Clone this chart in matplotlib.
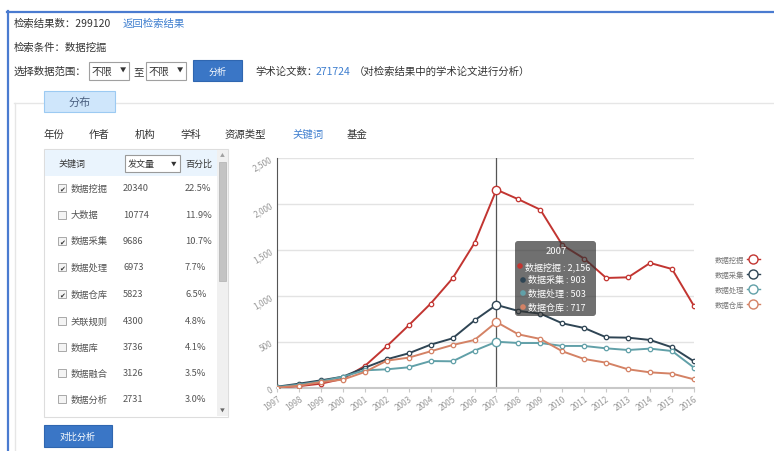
import matplotlib
matplotlib.use("Agg")
import matplotlib.pyplot as plt
from matplotlib.patches import Rectangle, FancyBboxPatch, Circle
from matplotlib.lines import Line2D
from matplotlib.ticker import FuncFormatter

plt.rcParams["font.family"] = ["Noto Sans CJK SC", "DejaVu Sans"]

# ---- data ----
years = list(range(1997, 2017))
series_names = ["数据挖掘", "数据采集", "数据处理", "数据仓库"]
series_colors = ["#c23531", "#2f4554", "#61a0a8", "#d48265"]
wajue = [5, 20, 47, 100, 239, 453, 681, 917, 1192, 1576, 2156,
         2051, 1938, 1554, 1406, 1196, 1203, 1359, 1293, 891]
caiji = [14, 47, 83, 123, 221, 312, 377, 471, 540, 735, 903,
         837, 808, 703, 652, 551, 547, 522, 442, 290]
chuli = [11, 36, 72, 123, 192, 203, 225, 293, 290, 406, 503,
         489, 489, 457, 457, 431, 413, 428, 402, 221]
cangku = [4, 25, 65, 91, 174, 297, 330, 399, 467, 522, 717,
          583, 533, 399, 315, 275, 203, 170, 156, 94]
series_values = [wajue, caiji, chuli, cangku]
focus_year = 2007

keywords = ["数据挖掘", "大数据", "数据采集", "数据处理", "数据仓库",
            "关联规则", "数据库", "数据融合", "数据分析"]
counts = ["20340", "10774", "9686", "6973", "5823", "4300", "3736", "3126", "2731"]
percents = ["22.5%", "11.9%", "10.7%", "7.7%", "6.5%", "4.8%", "4.1%", "3.5%", "3.0%"]
checked = [True, False, True, True, True, False, False, False, False]
tabs = ["年份", "作者", "机构", "学科", "资源类型", "关键词", "基金"]

W, H = 774, 452
fig = plt.figure(figsize=(W / 100, H / 100), dpi=100)
fig.patch.set_facecolor("white")


def px_axes(x0, y0, x1, y1):
    return [x0 / W, 1 - y1 / H, (x1 - x0) / W, (y1 - y0) / H]


# ---- chart ----
ax = fig.add_axes(px_axes(277, 159, 694, 389))
ax.set_xlim(years[0], years[-1])
ax.set_ylim(0, 2500)
ax.set_yticks([0, 500, 1000, 1500, 2000, 2500])
ax.set_xticks(years)
ax.grid(axis="y", color="#e3e3e3", lw=1)
ax.set_axisbelow(True)
for s in ["top", "right"]:
    ax.spines[s].set_visible(False)
ax.spines["left"].set_color("#555555")
ax.spines["bottom"].set_color("#c8c8c8")
ax.spines["bottom"].set_linewidth(1.5)
ax.tick_params(axis="y", length=0, labelsize=6, labelcolor="#999999", pad=2)
ax.tick_params(axis="x", length=3, color="#c8c8c8", labelsize=6, labelcolor="#999999", pad=1)
ax.yaxis.set_major_formatter(FuncFormatter(lambda v, p: f"{int(v):,}"))
for lab in ax.get_yticklabels():
    lab.set_rotation(30)
for lab in ax.get_xticklabels():
    lab.set_rotation(35)
    lab.set_ha("right")
    lab.set_rotation_mode("anchor")

ax.axvline(focus_year, color="#555555", lw=0.9, zorder=1)

fi = years.index(focus_year)
for vals, col in zip(series_values, series_colors):
    ax.plot(years, vals, color=col, lw=1.4, marker="o", ms=3.2,
            mfc="white", mec=col, mew=0.9, zorder=3)
    ax.plot([years[fi]], [vals[fi]], marker="o", ms=6, mfc="white",
            mec=col, mew=1, zorder=4)

handles = [Line2D([], [], color=c, lw=1, marker="o", ms=6.5, mfc="white", mec=c, mew=1)
           for c in series_colors]
fig.legend(handles, series_names, loc="center left",
           bbox_to_anchor=(708 / W, 1 - 283 / H), bbox_transform=fig.transFigure,
           markerfirst=False, frameon=False, fontsize=5.3, labelcolor="#777777",
           handlelength=1.7, handletextpad=0.4, labelspacing=0.95)

# ---- page overlay ----
ui = fig.add_axes([0, 0, 1, 1], zorder=10)
ui.set_xlim(0, W)
ui.set_ylim(H, 0)
ui.axis("off")
ui.patch.set_alpha(0)

TXT = "#333333"
BLUE = "#3f7fcf"
FS = 7.5


def t(x, y, s, color=TXT, size=FS, ha="left", **kw):
    ui.text(x, y, s, color=color, fontsize=size, ha=ha, va="center", **kw)


def rect(x0, y0, x1, y1, fc="none", ec="none", lw=1, z=1):
    ui.add_patch(Rectangle((x0, y0), x1 - x0, y1 - y0, fc=fc, ec=ec, lw=lw, zorder=z))


# outer blue frame
ui.plot([7, W], [12.5, 12.5], color="#4a7bd0", lw=1.6)
ui.plot([7.5, 7.5], [12, H], color="#4a7bd0", lw=1.6)

t(14, 24, "检索结果数：299120")
t(123, 24, "返回检索结果", color=BLUE)
t(14, 48, "检索条件：数据挖掘")
t(14, 72, "选择数据范围：")
for x0 in (89, 146):
    rect(x0, 63, x0 + 40, 81, fc="white", ec="#a0a0a0", lw=0.8)
    t(x0 + 3, 72, "不限")
    t(x0 + 34, 71, "▼", size=4.5, ha="center")
t(133, 72, "至")
rect(193, 61, 242, 82, fc="#3a76c6", ec="#2f66b0", lw=0.8)
t(217.5, 72, "分析", color="white", size=6.5, ha="center")
ui.text(255, 72, "学术论文数：", color=TXT, fontsize=FS, va="center")
ui.text(316, 72, "271724", color=BLUE, fontsize=FS, va="center")
t(354, 72, "（对检索结果中的学术论文进行分析）")

# content panel
ui.plot([14, W], [104, 104], color="#e6e6e6", lw=1)
ui.plot([14.5, 14.5], [104, H], color="#e6e6e6", lw=1)
rect(44, 92, 115, 113, fc="#cfe6fb", ec="#9ccaf2", lw=0.8, z=2)
t(79.5, 102.5, "分布", color="#4a5f80", size=8, ha="center", zorder=3)

tab_x = [44, 89, 135, 180, 225, 292, 347]
for x, name in zip(tab_x, tabs):
    t(x, 135, name, color=BLUE if name == "关键词" else TXT)

# keyword list
rect(44, 150, 228, 418, fc="white", ec="#dddddd", lw=0.8)
rect(44.5, 150.5, 217, 177, fc="#eaf4fd")
t(59, 164, "关键词", size=6.5)
rect(125, 156, 180, 173, fc="white", ec="#9a9a9a", lw=0.8)
t(128, 164.5, "发文量", size=6.5)
t(174, 164, "▼", size=4, ha="center")
t(185, 164, "百分比", size=6.5)

row_y = [189, 216, 242, 268, 295, 322, 348, 374, 400]
for y, name, c, p, chk in zip(row_y, keywords, counts, percents, checked):
    rect(58, y - 4, 66, y + 4, fc="#f4f4f4", ec="#a8a8a8", lw=0.7)
    if chk:
        ui.text(62, y + 0.3, "✔", fontsize=5, ha="center", va="center",
                color="#333333", family="DejaVu Sans")
    t(71, y, name, color="#555555", size=6.7)
    t(123, y, c, color="#555555", size=6.7)
    t(185, y, p, color="#555555", size=6.7)

# scrollbar
rect(217, 150.5, 227.5, 417.5, fc="#f0f0f0")
rect(218.5, 163, 226, 282, fc="#c3c3c3", ec="#b0b0b0", lw=0.5)
t(222, 155, "▲", color="#a0a0a0", size=3.5, ha="center")
t(222, 410, "▼", color="#666666", size=3.5, ha="center")

rect(44, 426, 112, 448, fc="#3a76c6", ec="#2f66b0", lw=0.8)
t(78, 437, "对比分析", color="white", size=6.5, ha="center")

# tooltip
ui.add_patch(FancyBboxPatch((515, 242), 81, 75, boxstyle="round,pad=0,rounding_size=3",
                            fc=(0.2, 0.2, 0.2, 0.7), ec="none", zorder=5))
t(556, 252, str(focus_year), color="white", size=6.8, ha="center", zorder=6)
tip_y = [267, 281, 294, 308]
for k, (y, name, col, vals) in enumerate(zip(tip_y, series_names, series_colors, series_values)):
    xd = 520 if k == 0 else 523
    ui.add_patch(Circle((xd, y), 2.8, fc=col, ec="none", zorder=6))
    t(xd + 5, y, f"{name} : {vals[fi]:,}", color="white", size=6.5, zorder=6)

fig.savefig("out.png", dpi=100)
